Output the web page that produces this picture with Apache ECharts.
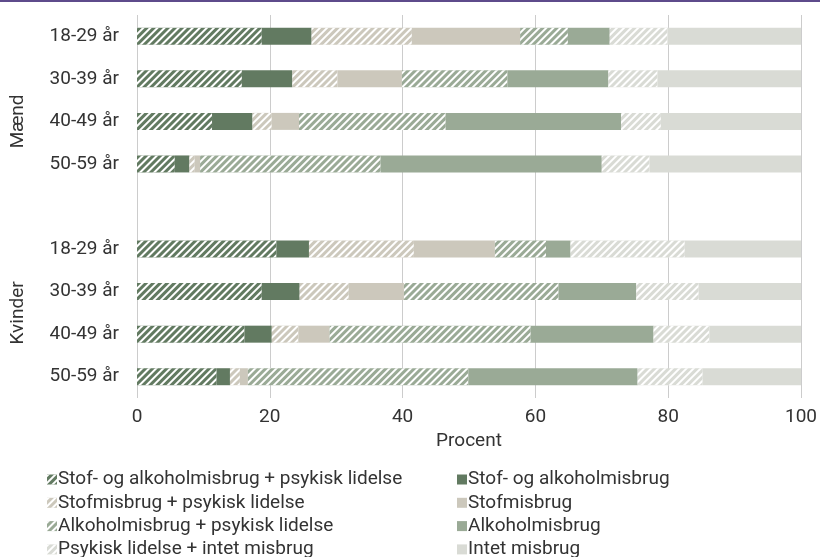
<!DOCTYPE html>
<html>
<head>
<meta charset="utf-8">
<script src="https://cdn.jsdelivr.net/npm/echarts@6/dist/echarts.min.js"></script>
<style>
html,body{margin:0;padding:0;background:#fff;}
#c{width:820px;height:557px;}
</style>
</head>
<body>
<div id="c"></div>
<script>
const categories = ['18-29 år','30-39 år','40-49 år','50-59 år','','18-29 år','30-39 år','40-49 år','50-59 år'];
const groupLabels = ['Mænd','Kvinder'];
const axisTitle = 'Procent';
const seriesNames = [
  'Stof- og alkoholmisbrug + psykisk lidelse',
  'Stof- og alkoholmisbrug',
  'Stofmisbrug + psykisk lidelse',
  'Stofmisbrug',
  'Alkoholmisbrug + psykisk lidelse',
  'Alkoholmisbrug',
  'Psykisk lidelse + intet misbrug',
  'Intet misbrug'
];
const stofAlkPsyk = [18.8, 15.8, 11.3, 5.7, null, 21.0, 18.8, 16.2, 12.0];
const stofAlk     = [7.5, 7.6, 6.1, 2.2, null, 4.9, 5.7, 4.1, 2.0];
const stofPsyk    = [15.1, 6.8, 2.9, 0.8, null, 15.8, 7.4, 4.0, 1.5];
const stof        = [16.3, 9.7, 4.1, 0.8, null, 12.2, 8.3, 4.7, 1.2];
const alkPsyk     = [7.2, 15.9, 22.1, 27.2, null, 7.7, 23.3, 30.3, 33.2];
const alk         = [6.3, 15.2, 26.4, 33.3, null, 3.7, 11.7, 18.5, 25.5];
const psykIntet   = [8.7, 7.4, 6.0, 7.2, null, 17.2, 9.4, 8.4, 9.8];
const intet       = [20.1, 21.6, 21.1, 22.8, null, 17.5, 15.4, 13.8, 14.8];

const seriesData = [stofAlkPsyk, stofAlk, stofPsyk, stof, alkPsyk, alk, psykIntet, intet];
const colors = ['#627a61','#627a61','#ccc8bc','#ccc8bc','#9aaa96','#9aaa96','#d9dbd5','#d9dbd5'];
const hatched = [true,false,true,false,true,false,true,false];

const FONT = 'Roboto, "Noto Sans", sans-serif';
const TXT = '#333333';

const stripe = {
  symbol: 'rect',
  symbolSize: 1,
  dashArrayX: [1, 0],
  dashArrayY: [2, 3],
  rotation: -Math.PI / 4,
  color: '#ffffff'
};

const chart = echarts.init(document.getElementById('c'), null, {renderer: 'canvas'});

const series = seriesNames.map((n, i) => ({
  name: n,
  type: 'bar',
  stack: 'total',
  barWidth: 17,
  data: seriesData[i].map(v => v == null ? '-' : v),
  itemStyle: Object.assign({color: colors[i]}, hatched[i] ? {decal: stripe} : {}),
  emphasis: {disabled: true}
}));

const legendCommon = {
  orient: 'vertical',
  icon: 'rect',
  itemWidth: 10,
  itemHeight: 10,
  itemGap: 0.3,
  top: 463,
  height: 120,
  selectedMode: false,
  textStyle: {fontFamily: FONT, fontSize: 19, color: TXT, lineHeight: 23, padding: [0,0,0,-4]}
};

chart.setOption({
  animation: false,
  color: colors,
  grid: {left: 137, right: 17, top: 15, bottom: 159, containLabel: false},
  xAxis: {
    type: 'value', min: 0, max: 100, interval: 20,
    name: axisTitle, nameLocation: 'middle', nameGap: 31,
    nameTextStyle: {fontFamily: FONT, fontSize: 19, color: TXT},
    axisLine: {show: false}, axisTick: {show: false},
    axisLabel: {fontFamily: FONT, fontSize: 19, color: TXT, margin: 10},
    splitLine: {show: true, lineStyle: {color: '#cccccc', width: 1}}
  },
  yAxis: {
    type: 'category', inverse: true, data: categories,
    axisLine: {show: false}, axisTick: {show: false},
    axisLabel: {fontFamily: FONT, fontSize: 19, color: TXT, margin: 18}
  },
  legend: [
    Object.assign({}, legendCommon, {left: 42, data: seriesNames.filter((_, i) => i % 2 === 0)}),
    Object.assign({}, legendCommon, {left: 452, data: seriesNames.filter((_, i) => i % 2 === 1)})
  ],
  series: series
});

// group labels positioned from the category axis
const yOf = idx => chart.convertToPixel({yAxisIndex: 0}, idx);
const mMid = (yOf(0) + yOf(4)) / 2;
const kMid = (yOf(5) + yOf(8)) / 2;
chart.setOption({
  graphic: [
    {type: 'rect', left: 0, top: 0, shape: {width: 820, height: 2}, style: {fill: '#5e4b8b'}, silent: true},
    {type: 'text', x: 18, y: mMid, rotation: Math.PI / 2,
     style: {text: groupLabels[0], fontFamily: FONT, fontSize: 19, fill: TXT, align: 'center', verticalAlign: 'middle'}},
    {type: 'text', x: 18, y: kMid, rotation: Math.PI / 2,
     style: {text: groupLabels[1], fontFamily: FONT, fontSize: 19, fill: TXT, align: 'center', verticalAlign: 'middle'}}
  ]
});
</script>
</body>
</html>
